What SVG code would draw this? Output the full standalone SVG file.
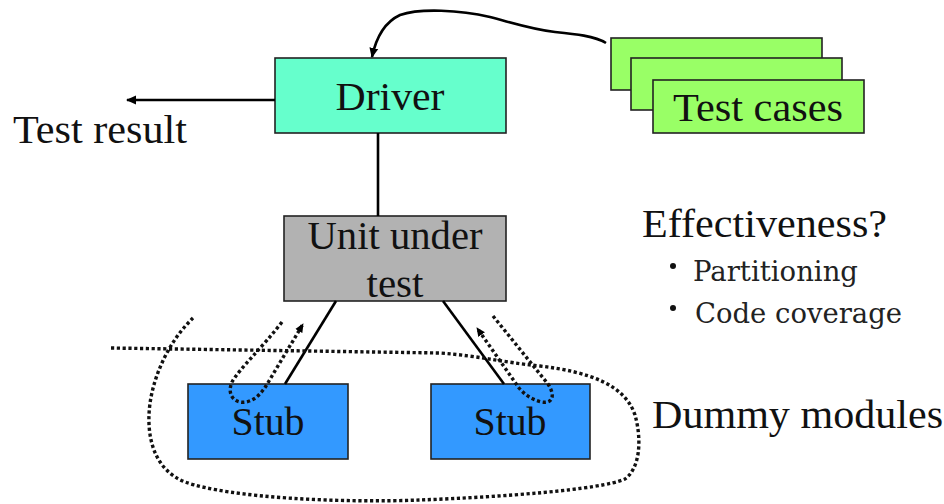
<svg xmlns="http://www.w3.org/2000/svg" width="944" height="504" viewBox="0 0 944 504">
  <defs>
    <marker id="arrowSolid" viewBox="0 0 10 10" refX="9" refY="5" markerWidth="10" markerHeight="10" markerUnits="userSpaceOnUse" orient="auto">
      <path d="M0,0.5 L10,5 L0,9.5 Z" fill="#000"/>
    </marker>
    <marker id="arrowDot" viewBox="0 0 10 10" refX="9" refY="5" markerWidth="9" markerHeight="9" markerUnits="userSpaceOnUse" orient="auto">
      <path d="M0,0.5 L10,5 L0,9.5 Z" fill="#000"/>
    </marker>
    <style>
      .box { stroke: #222; stroke-width: 1.6; }
      .lbl { font-family: 'Liberation Serif', 'Times New Roman', Tinos, 'Noto Serif', 'DejaVu Serif', FreeSerif, serif; font-size: 41px; fill: #111; }
      .mid { text-anchor: middle; }
      .sub { font-family: 'DejaVu Serif', 'Liberation Serif', 'Noto Serif', serif; font-size: 27px; fill: #222; }
      .bullet { fill: #111; }
      .line { fill: none; stroke: #000; stroke-width: 2.6; }
      .dots { fill: none; stroke: #111; stroke-width: 3.4; stroke-dasharray: 3.2 2.6; }
    </style>
  </defs>
  <rect width="944" height="504" fill="#fff"/>

  <g id="test-result">
    <text class="lbl" x="13" y="143" textLength="174" lengthAdjust="spacingAndGlyphs">Test result</text>
  </g>

  <g id="driver">
    <rect class="box" x="275" y="58" width="231" height="75" fill="#66FFCC"/>
    <text class="lbl mid" x="390" y="110" textLength="109" lengthAdjust="spacingAndGlyphs">Driver</text>
  </g>

  <g id="test-cases">
    <rect class="box" x="611" y="38" width="211" height="52" fill="#99FF66"/>
    <rect class="box" x="631" y="58" width="211" height="52" fill="#99FF66"/>
    <rect class="box" x="653" y="80" width="211" height="53" fill="#99FF66"/>
    <text class="lbl mid" x="758" y="121" textLength="170" lengthAdjust="spacingAndGlyphs">Test cases</text>
  </g>

  <g id="unit-under-test">
    <rect class="box" x="284" y="216" width="222" height="85" fill="#B2B2B2"/>
    <text class="lbl mid" x="395" y="249" textLength="175" lengthAdjust="spacingAndGlyphs">Unit under</text>
    <text class="lbl mid" x="395" y="297" textLength="57" lengthAdjust="spacingAndGlyphs">test</text>
  </g>

  <g id="stub-left">
    <rect class="box" x="188" y="384" width="160" height="75" fill="#3399FF"/>
    <text class="lbl mid" x="268" y="435" textLength="73" lengthAdjust="spacingAndGlyphs">Stub</text>
  </g>

  <g id="stub-right">
    <rect class="box" x="431" y="384" width="159" height="75" fill="#3399FF"/>
    <text class="lbl mid" x="510" y="435" textLength="73" lengthAdjust="spacingAndGlyphs">Stub</text>
  </g>

  <g id="effectiveness">
    <text class="lbl" x="642" y="237" textLength="245" lengthAdjust="spacingAndGlyphs">Effectiveness?</text>
    <circle class="bullet" cx="673" cy="266" r="3"/>
    <text class="sub" x="693" y="281" textLength="165" lengthAdjust="spacingAndGlyphs">Partitioning</text>
    <circle class="bullet" cx="673" cy="308" r="3"/>
    <text class="sub" x="695" y="323" textLength="207" lengthAdjust="spacingAndGlyphs">Code coverage</text>
  </g>

  <g id="dummy-modules">
    <text class="lbl" x="652" y="428" textLength="291" lengthAdjust="spacingAndGlyphs">Dummy modules</text>
  </g>

  <!-- connectors -->
  <g id="connectors">
    <path class="line" d="M606,43 C595,36 575,34 555,32 C530,29 510,22 490,17 C460,10 420,8 400,15 C385,22 376,38 372,57" marker-end="url(#arrowSolid)"/>
    <path class="line" d="M275,100 L127,100" marker-end="url(#arrowSolid)"/>
    <path class="line" d="M378,133 L378,216"/>
    <path class="line" d="M336,301 L285,384"/>
    <path class="line" d="M443,301 L504,384"/>
    <!-- call / return paths into the stubs -->
    <path class="dots" d="M282,322 C262,348 240,368 232,382 C226,396 236,404 246,402 C256,400 262,392 266,386 L303,324" marker-end="url(#arrowDot)"/>
    <path class="dots" d="M493,316 L548,384 C556,396 552,404 542,402 C532,400 524,394 519,388 L477,328" marker-end="url(#arrowDot)"/>
    <!-- boundary of the dummy modules -->
    <path class="dots" d="M111,348 L440,353 C480,356 500,362 540,366 C590,372 625,385 635,415 C642,440 640,468 625,479 C600,490 500,497 420,500 C340,503 230,498 185,482 C155,470 148,440 149,415 C150,385 165,345 193,318"/>
  </g>
</svg>
